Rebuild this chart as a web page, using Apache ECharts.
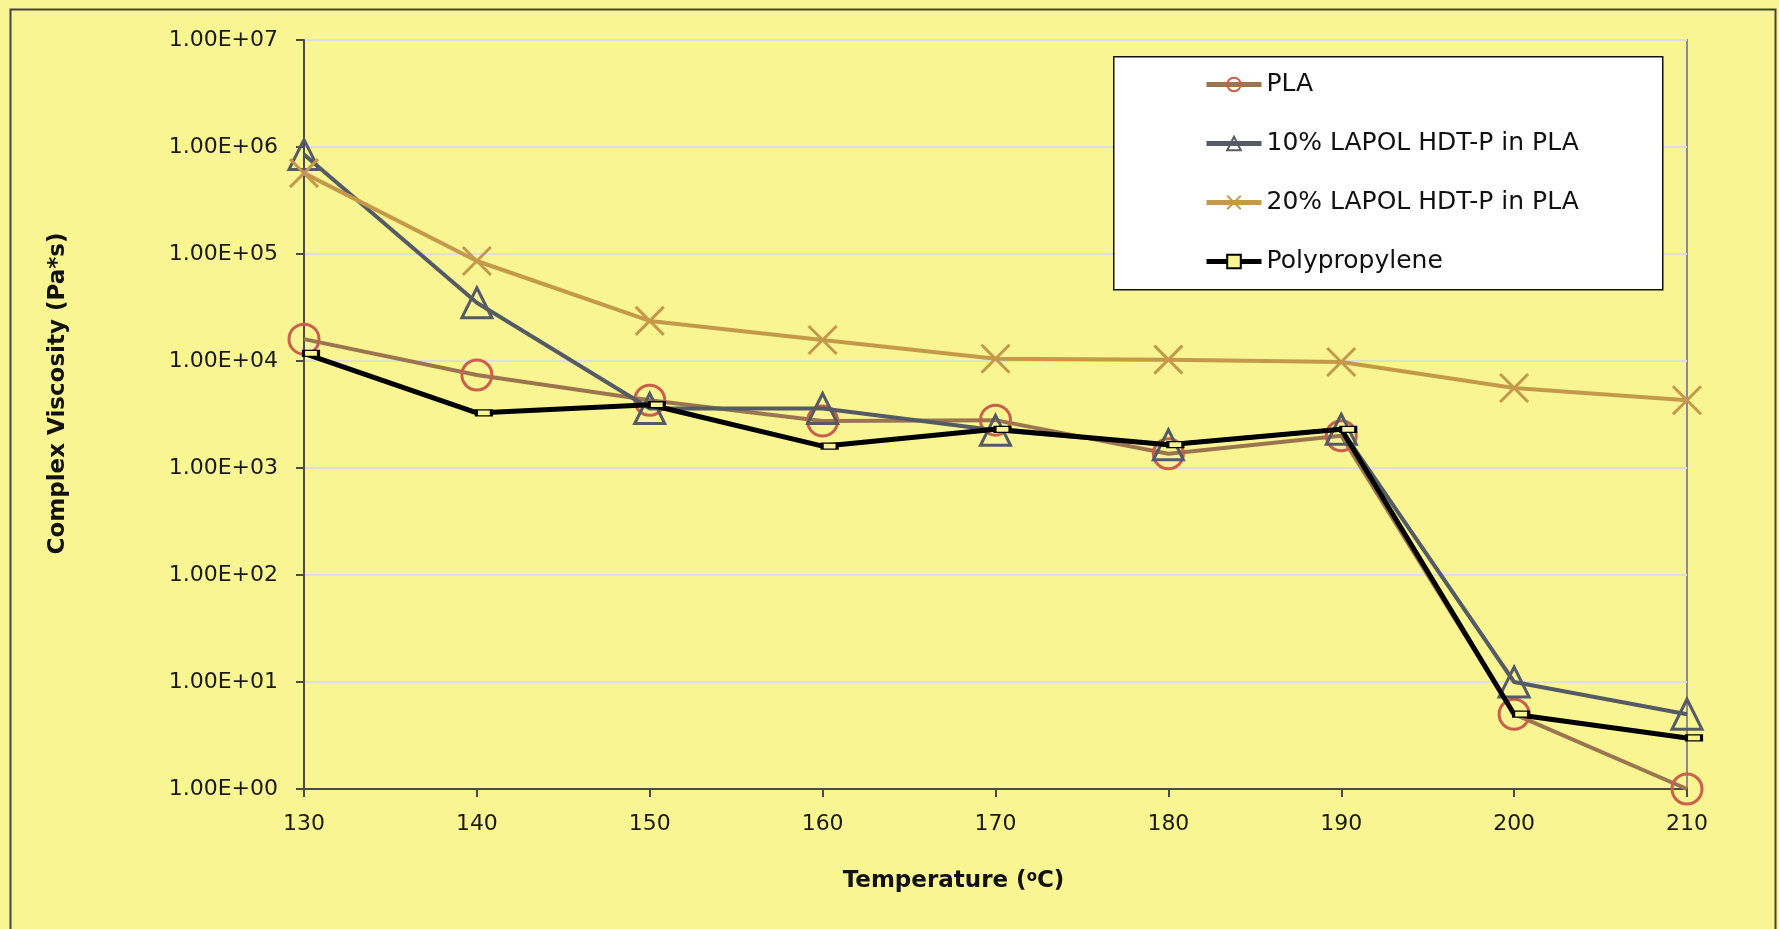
<!DOCTYPE html>
<html>
<head>
<meta charset="utf-8">
<script src="https://cdn.jsdelivr.net/npm/echarts@6/dist/echarts.min.js"></script>
<style>
html,body{margin:0;padding:0;background:#F8F592;}
#chart{width:1779px;height:929px;}
</style>
</head>
<body>
<div id="chart"></div>
<script>
// ---- data ----
const temperatures = [130, 140, 150, 160, 170, 180, 190, 200, 210];
const seriesNames = ['PLA', '10% LAPOL HDT-P in PLA', '20% LAPOL HDT-P in PLA', 'Polypropylene'];
const plaValues = [1.6e4, 7.4e3, 4.3e3, 2.75e3, 2.8e3, 1.36e3, 2.0e3, 5.0, 1.0];
const lapol10Values = [8.5e5, 3.5e4, 3.6e3, 3.6e3, 2.25e3, 1.65e3, 2.3e3, 10, 5.0];
const lapol20Values = [5.7e5, 8.6e4, 2.37e4, 1.57e4, 1.05e4, 1.03e4, 9.8e3, 5.6e3, 4.3e3];
const ppValues = [1.18e4, 3.27e3, 3.9e3, 1.6e3, 2.3e3, 1.65e3, 2.3e3, 5.0, 3.0];
const yTickLabels = ['1.00E+00', '1.00E+01', '1.00E+02', '1.00E+03', '1.00E+04', '1.00E+05', '1.00E+06', '1.00E+07'];
const xTickLabels = ['130', '140', '150', '160', '170', '180', '190', '200', '210'];

const FONT = 'DejaVu Sans';
const BG = '#F8F592';
const pairs = vals => temperatures.map((t, i) => [t, vals[i]]);

const chart = echarts.init(document.getElementById('chart'), null, {renderer: 'canvas'});
chart.setOption({
  backgroundColor: BG,
  animation: false,
  textStyle: {fontFamily: FONT},
  graphic: [
    {type: 'rect', left: 8, top: 7, shape: {width: 1765, height: 1000},
     style: {fill: 'none', stroke: '#444', lineWidth: 2}, z: 0, silent: true},
    {type: 'rect', left: 1113, top: 56, shape: {width: 549, height: 233},
     style: {fill: '#ffffff', stroke: '#111', lineWidth: 1.5}, z: 5, silent: true}
  ],
  grid: {
    left: 304, top: 40, right: 92, bottom: 140,
    show: true, borderColor: '#8c8c8c', borderWidth: 2, backgroundColor: 'transparent'
  },
  legend: {
    show: true, orient: 'vertical', left: 1204, top: 70, padding: 0,
    itemWidth: 55, itemHeight: 17, itemGap: 30,
    z: 10,
    lineStyle: {width: 5},
    textStyle: {fontFamily: FONT, fontSize: 25, color: '#111', lineHeight: 29},
    data: seriesNames
  },
  xAxis: {
    type: 'value', min: 130, max: 210, interval: 10,
    axisLine: {show: true, onZero: false, lineStyle: {color: '#4a4a4a', width: 2}},
    axisTick: {show: true, inside: false, length: 8, lineStyle: {color: '#4a4a4a', width: 2}},
    splitLine: {show: false},
    axisLabel: {
      fontFamily: FONT, fontSize: 22, color: '#1a1a1a', margin: 24,
      formatter: v => xTickLabels[Math.round((v - 130) / 10)] ?? ''
    },
    name: '{n|Temperature (}{s|o}{n|C)}',
    nameLocation: 'middle', nameGap: 81,
    nameTextStyle: {
      padding: [0, 84, 0, 0],
      rich: {
        n: {fontFamily: FONT, fontSize: 23, fontWeight: 'bold', color: '#111'},
        s: {fontFamily: FONT, fontSize: 15, fontWeight: 'bold', color: '#111', verticalAlign: 'top', padding: [0, 0, 8, 0]}
      }
    }
  },
  yAxis: {
    type: 'log', logBase: 10, min: 1, max: 1e7,
    axisLine: {show: true, lineStyle: {color: '#4a4a4a', width: 2}},
    axisTick: {show: true, inside: false, length: 8, lineStyle: {color: '#4a4a4a', width: 2}},
    minorTick: {show: false},
    splitLine: {show: true, lineStyle: {color: '#dedede', width: 2}},
    axisLabel: {
      fontFamily: FONT, fontSize: 22, color: '#1a1a1a', margin: 26,
      formatter: v => yTickLabels[Math.round(Math.log10(v))] ?? ''
    },
    name: 'Complex Viscosity (Pa*s)',
    nameLocation: 'middle', nameGap: 234, nameRotate: 90,
    nameTextStyle: {fontFamily: FONT, fontSize: 23, fontWeight: 'bold', color: '#111', padding: [0, 0, 0, 42]}
  },
  series: [
    {
      name: seriesNames[0], type: 'line', data: pairs(plaValues), clip: false, z: 2,
      symbol: 'circle', symbolSize: 30,
      lineStyle: {color: '#9B7550', width: 4},
      itemStyle: {color: 'rgba(0,0,0,0)', borderColor: '#C9604B', borderWidth: 3}
    },
    {
      name: seriesNames[1], type: 'line', data: pairs(lapol10Values), clip: false, z: 3,
      symbol: 'triangle', symbolSize: [30, 30],
      lineStyle: {color: '#545B66', width: 4},
      itemStyle: {color: 'rgba(0,0,0,0)', borderColor: '#545B66', borderWidth: 3}
    },
    {
      name: seriesNames[2], type: 'line', data: pairs(lapol20Values), clip: false, z: 4,
      symbol: 'path://M0,0L10,10M10,0L0,10', symbolSize: 28,
      lineStyle: {color: '#C4994A', width: 4},
      itemStyle: {color: 'rgba(0,0,0,0)', borderColor: '#C4994A', borderWidth: 3}
    },
    {
      name: seriesNames[3], type: 'line', data: pairs(ppValues), clip: false, z: 5,
      symbol: 'rect', symbolSize: [15, 6], symbolOffset: [7, 0],
      lineStyle: {color: '#000000', width: 5},
      itemStyle: {color: BG, borderColor: '#000000', borderWidth: 2}
    }
  ]
});
</script>
</body>
</html>
